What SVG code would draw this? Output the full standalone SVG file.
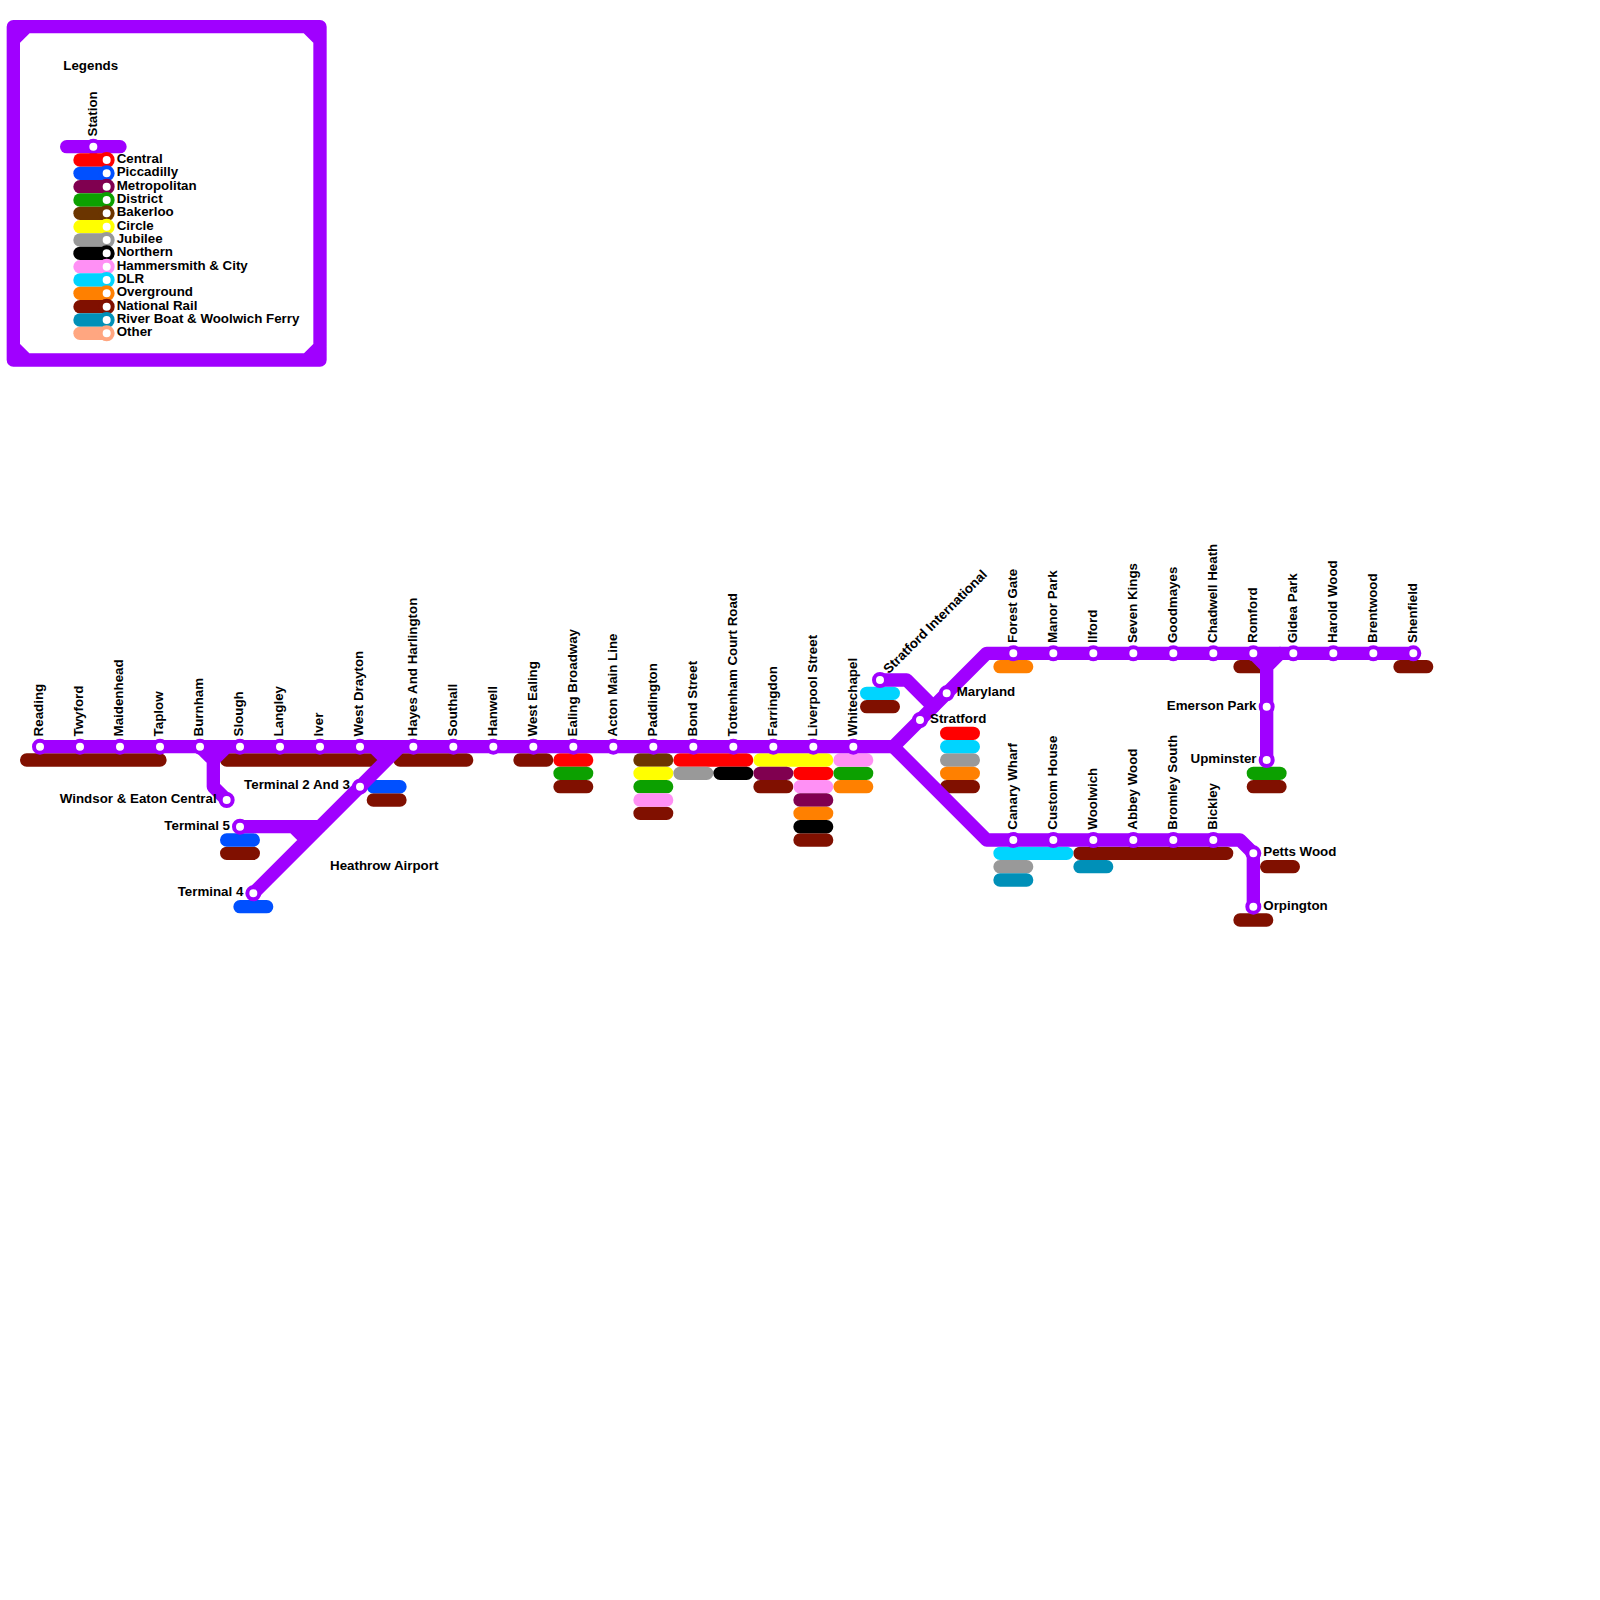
<svg xmlns="http://www.w3.org/2000/svg" width="1600" height="1600" viewBox="0 0 1600 1600">
<style>
text{font-family:"Liberation Sans",Arial,sans-serif;font-size:13.33px;font-weight:700;fill:#000}
.e{text-anchor:end}
.l{fill:none;stroke-width:13.33;stroke-linecap:round;stroke-linejoin:round}
.p{stroke:#a000ff}
.ce{stroke:#ff0000}.pi{stroke:#0050ff}.me{stroke:#800050}.di{stroke:#0ca000}.ba{stroke:#6b3500}.ci{stroke:#ffff00}.ju{stroke:#999999}.no{stroke:#000000}.hc{stroke:#ff90f5}.dl{stroke:#00d4ff}.ov{stroke:#ff8000}.nr{stroke:#801000}.rb{stroke:#0090b8}.ot{stroke:#ffa680}
.s{fill:#fff;stroke:#a000ff;stroke-width:4}
.k{fill:#fff;stroke-width:4}
</style>
<rect width="1600" height="1600" fill="#fff"/>
<g id="line-bars" class="l">
<path class="nr" d="M26.67 760H160M226.67 760H373.33M400 760H466.67M373.33 800H400M226.67 853.33H253.33M520 760H546.67M560 786.67H586.67M640 813.33H666.67M760 786.67H786.67M800 840H826.67M866.67 706.67H893.33M946.67 786.67H973.33M1080 853.33H1226.67M1240 666.67H1266.67M1253.33 786.67H1280M1266.67 866.67H1293.33M1240 920H1266.67M1400 666.67H1426.67"/>
<path class="pi" d="M373.33 786.67H400M226.67 840H253.33M240 906.67H266.67"/>
<path class="ce" d="M560 760H586.67M680 760H746.67M800 773.33H826.67M946.67 733.33H973.33"/>
<path class="di" d="M560 773.33H586.67M640 786.67H666.67M840 773.33H866.67M1253.33 773.33H1280"/>
<path class="ba" d="M640 760H666.67"/>
<path class="ci" d="M640 773.33H666.67M760 760H826.67"/>
<path class="hc" d="M640 800H666.67M800 786.67H826.67M840 760H866.67"/>
<path class="ju" d="M680 773.33H706.67M946.67 760H973.33M1000 866.67H1026.67"/>
<path class="no" d="M720 773.33H746.67M800 826.67H826.67"/>
<path class="me" d="M760 773.33H786.67M800 800H826.67"/>
<path class="ov" d="M800 813.33H826.67M840 786.67H866.67M946.67 773.33H973.33M1000 666.67H1026.67"/>
<path class="dl" d="M866.67 693.33H893.33M946.67 746.67H973.33M1000 853.33H1066.67"/>
<path class="rb" d="M1000 880H1026.67M1080 866.67H1106.67"/>
</g>
<g id="connectors" class="l p">
<path d="M40 746.67H893.33L986.67 653.33H1413.33"/>
<path d="M893.33 746.67L986.67 840H1240L1253.33 853.33V906.67"/>
<path d="M200 746.67L213.33 760V786.67L226.67 800M226.67 746.67L213.33 760"/>
<path d="M373.33 746.67L386.67 760M400 746.67L253.33 893.33M240 826.67H320M293.33 826.67L306.67 840"/>
<path d="M880 680H906.67L933.33 706.67"/>
<path d="M1253.33 653.33L1266.67 666.67V760M1280 653.33L1266.67 666.67"/>
<path d="M13.33 26.67H320V360H13.33ZM13.33 40L26.67 26.67M306.67 26.67L320 40M320 346.67L306.67 360M26.67 360L13.33 346.67"/>
<path d="M66.67 146.67H120"/>
</g>
<g id="legend">
<text x="63.3" y="69.5">Legends</text>
<g id="legend-station"><circle class="s" cx="93.33" cy="146.67" r="6"/><text transform="translate(96.6 136.5) rotate(-90)">Station</text></g>
<g id="legend-central"><path class="l ce" d="M80 160H106.67"/><circle class="k ce" cx="106.67" cy="160" r="6"/><text x="116.7" y="163">Central</text></g>
<g id="legend-piccadilly"><path class="l pi" d="M80 173.33H106.67"/><circle class="k pi" cx="106.67" cy="173.33" r="6"/><text x="116.7" y="176.33">Piccadilly</text></g>
<g id="legend-metropolitan"><path class="l me" d="M80 186.67H106.67"/><circle class="k me" cx="106.67" cy="186.67" r="6"/><text x="116.7" y="189.67">Metropolitan</text></g>
<g id="legend-district"><path class="l di" d="M80 200H106.67"/><circle class="k di" cx="106.67" cy="200" r="6"/><text x="116.7" y="203">District</text></g>
<g id="legend-bakerloo"><path class="l ba" d="M80 213.33H106.67"/><circle class="k ba" cx="106.67" cy="213.33" r="6"/><text x="116.7" y="216.33">Bakerloo</text></g>
<g id="legend-circle"><path class="l ci" d="M80 226.67H106.67"/><circle class="k ci" cx="106.67" cy="226.67" r="6"/><text x="116.7" y="229.67">Circle</text></g>
<g id="legend-jubilee"><path class="l ju" d="M80 240H106.67"/><circle class="k ju" cx="106.67" cy="240" r="6"/><text x="116.7" y="243">Jubilee</text></g>
<g id="legend-northern"><path class="l no" d="M80 253.33H106.67"/><circle class="k no" cx="106.67" cy="253.33" r="6"/><text x="116.7" y="256.33">Northern</text></g>
<g id="legend-hc"><path class="l hc" d="M80 266.67H106.67"/><circle class="k hc" cx="106.67" cy="266.67" r="6"/><text x="116.7" y="269.67">Hammersmith &amp; City</text></g>
<g id="legend-dlr"><path class="l dl" d="M80 280H106.67"/><circle class="k dl" cx="106.67" cy="280" r="6"/><text x="116.7" y="283">DLR</text></g>
<g id="legend-overground"><path class="l ov" d="M80 293.33H106.67"/><circle class="k ov" cx="106.67" cy="293.33" r="6"/><text x="116.7" y="296.33">Overground</text></g>
<g id="legend-national-rail"><path class="l nr" d="M80 306.67H106.67"/><circle class="k nr" cx="106.67" cy="306.67" r="6"/><text x="116.7" y="309.67">National Rail</text></g>
<g id="legend-river"><path class="l rb" d="M80 320H106.67"/><circle class="k rb" cx="106.67" cy="320" r="6"/><text x="116.7" y="323">River Boat &amp; Woolwich Ferry</text></g>
<g id="legend-other"><path class="l ot" d="M80 333.33H106.67"/><circle class="k ot" cx="106.67" cy="333.33" r="6"/><text x="116.7" y="336.33">Other</text></g>
</g>
<g id="stations">
<g id="reading"><circle class="s" cx="40" cy="746.67" r="6"/><text transform="translate(43.3 736.4) rotate(-90)">Reading</text></g>
<g id="twyford"><circle class="s" cx="80" cy="746.67" r="6"/><text transform="translate(83.3 736.4) rotate(-90)">Twyford</text></g>
<g id="maidenhead"><circle class="s" cx="120" cy="746.67" r="6"/><text transform="translate(123.3 736.4) rotate(-90)">Maidenhead</text></g>
<g id="taplow"><circle class="s" cx="160" cy="746.67" r="6"/><text transform="translate(163.3 736.4) rotate(-90)">Taplow</text></g>
<g id="burnham"><circle class="s" cx="200" cy="746.67" r="6"/><text transform="translate(203.3 736.4) rotate(-90)">Burnham</text></g>
<g id="slough"><circle class="s" cx="240" cy="746.67" r="6"/><text transform="translate(243.3 736.4) rotate(-90)">Slough</text></g>
<g id="langley"><circle class="s" cx="280" cy="746.67" r="6"/><text transform="translate(283.3 736.4) rotate(-90)">Langley</text></g>
<g id="iver"><circle class="s" cx="320" cy="746.67" r="6"/><text transform="translate(323.3 736.4) rotate(-90)">Iver</text></g>
<g id="west-drayton"><circle class="s" cx="360" cy="746.67" r="6"/><text transform="translate(363.3 736.4) rotate(-90)">West Drayton</text></g>
<g id="hayes"><circle class="s" cx="413.33" cy="746.67" r="6"/><text transform="translate(416.6 736.4) rotate(-90)">Hayes And Harlington</text></g>
<g id="southall"><circle class="s" cx="453.33" cy="746.67" r="6"/><text transform="translate(456.6 736.4) rotate(-90)">Southall</text></g>
<g id="hanwell"><circle class="s" cx="493.33" cy="746.67" r="6"/><text transform="translate(496.6 736.4) rotate(-90)">Hanwell</text></g>
<g id="west-ealing"><circle class="s" cx="533.33" cy="746.67" r="6"/><text transform="translate(536.6 736.4) rotate(-90)">West Ealing</text></g>
<g id="ealing-broadway"><circle class="s" cx="573.33" cy="746.67" r="6"/><text transform="translate(576.6 736.4) rotate(-90)">Ealing Broadway</text></g>
<g id="acton"><circle class="s" cx="613.33" cy="746.67" r="6"/><text transform="translate(616.6 736.4) rotate(-90)">Acton Main Line</text></g>
<g id="paddington"><circle class="s" cx="653.33" cy="746.67" r="6"/><text transform="translate(656.6 736.4) rotate(-90)">Paddington</text></g>
<g id="bond-street"><circle class="s" cx="693.33" cy="746.67" r="6"/><text transform="translate(696.6 736.4) rotate(-90)">Bond Street</text></g>
<g id="tcr"><circle class="s" cx="733.33" cy="746.67" r="6"/><text transform="translate(736.6 736.4) rotate(-90)">Tottenham Court Road</text></g>
<g id="farringdon"><circle class="s" cx="773.33" cy="746.67" r="6"/><text transform="translate(776.6 736.4) rotate(-90)">Farringdon</text></g>
<g id="liverpool-street"><circle class="s" cx="813.33" cy="746.67" r="6"/><text transform="translate(816.6 736.4) rotate(-90)">Liverpool Street</text></g>
<g id="whitechapel"><circle class="s" cx="853.33" cy="746.67" r="6"/><text transform="translate(856.6 736.4) rotate(-90)">Whitechapel</text></g>
<g id="stratford-international"><circle class="s" cx="880" cy="680" r="6"/><text transform="translate(888.8 674.3) rotate(-45)">Stratford International</text></g>
<g id="stratford"><circle class="s" cx="920" cy="720" r="6"/><text x="930" y="723">Stratford</text></g>
<g id="maryland"><circle class="s" cx="946.67" cy="693.33" r="6"/><text x="956.67" y="696.33">Maryland</text></g>
<g id="forest-gate"><circle class="s" cx="1013.33" cy="653.33" r="6"/><text transform="translate(1016.6 643) rotate(-90)">Forest Gate</text></g>
<g id="manor-park"><circle class="s" cx="1053.33" cy="653.33" r="6"/><text transform="translate(1056.6 643) rotate(-90)">Manor Park</text></g>
<g id="ilford"><circle class="s" cx="1093.33" cy="653.33" r="6"/><text transform="translate(1096.6 643) rotate(-90)">Ilford</text></g>
<g id="seven-kings"><circle class="s" cx="1133.33" cy="653.33" r="6"/><text transform="translate(1136.6 643) rotate(-90)">Seven Kings</text></g>
<g id="goodmayes"><circle class="s" cx="1173.33" cy="653.33" r="6"/><text transform="translate(1176.6 643) rotate(-90)">Goodmayes</text></g>
<g id="chadwell-heath"><circle class="s" cx="1213.33" cy="653.33" r="6"/><text transform="translate(1216.6 643) rotate(-90)">Chadwell Heath</text></g>
<g id="romford"><circle class="s" cx="1253.33" cy="653.33" r="6"/><text transform="translate(1256.6 643) rotate(-90)">Romford</text></g>
<g id="gidea-park"><circle class="s" cx="1293.33" cy="653.33" r="6"/><text transform="translate(1296.6 643) rotate(-90)">Gidea Park</text></g>
<g id="harold-wood"><circle class="s" cx="1333.33" cy="653.33" r="6"/><text transform="translate(1336.6 643) rotate(-90)">Harold Wood</text></g>
<g id="brentwood"><circle class="s" cx="1373.33" cy="653.33" r="6"/><text transform="translate(1376.6 643) rotate(-90)">Brentwood</text></g>
<g id="shenfield"><circle class="s" cx="1413.33" cy="653.33" r="6"/><text transform="translate(1416.6 643) rotate(-90)">Shenfield</text></g>
<g id="emerson-park"><circle class="s" cx="1266.67" cy="706.67" r="6"/><text class="e" x="1256.5" y="709.67">Emerson Park</text></g>
<g id="upminster"><circle class="s" cx="1266.67" cy="760" r="6"/><text class="e" x="1256.5" y="763">Upminster</text></g>
<g id="canary-wharf"><circle class="s" cx="1013.33" cy="840" r="6"/><text transform="translate(1016.6 829.7) rotate(-90)">Canary Wharf</text></g>
<g id="custom-house"><circle class="s" cx="1053.33" cy="840" r="6"/><text transform="translate(1056.6 829.7) rotate(-90)">Custom House</text></g>
<g id="woolwich"><circle class="s" cx="1093.33" cy="840" r="6"/><text transform="translate(1096.6 829.7) rotate(-90)">Woolwich</text></g>
<g id="abbey-wood"><circle class="s" cx="1133.33" cy="840" r="6"/><text transform="translate(1136.6 829.7) rotate(-90)">Abbey Wood</text></g>
<g id="bromley-south"><circle class="s" cx="1173.33" cy="840" r="6"/><text transform="translate(1176.6 829.7) rotate(-90)">Bromley South</text></g>
<g id="bickley"><circle class="s" cx="1213.33" cy="840" r="6"/><text transform="translate(1216.6 829.7) rotate(-90)">Bickley</text></g>
<g id="petts-wood"><circle class="s" cx="1253.33" cy="853.33" r="6"/><text x="1263.3" y="856.33">Petts Wood</text></g>
<g id="orpington"><circle class="s" cx="1253.33" cy="906.67" r="6"/><text x="1263.3" y="909.67">Orpington</text></g>
<g id="windsor"><circle class="s" cx="226.67" cy="800" r="6"/><text class="e" x="216.67" y="803">Windsor &amp; Eaton Central</text></g>
<g id="terminal-5"><circle class="s" cx="240" cy="826.67" r="6"/><text class="e" x="230" y="829.67">Terminal 5</text></g>
<g id="terminal-23"><circle class="s" cx="360" cy="786.67" r="6"/><text class="e" x="350" y="789.4">Terminal 2 And 3</text></g>
<g id="terminal-4"><circle class="s" cx="253.33" cy="893.33" r="6"/><text class="e" x="243.33" y="896.33">Terminal 4</text></g>
<text x="330" y="869.5">Heathrow Airport</text>
</g>
</svg>
